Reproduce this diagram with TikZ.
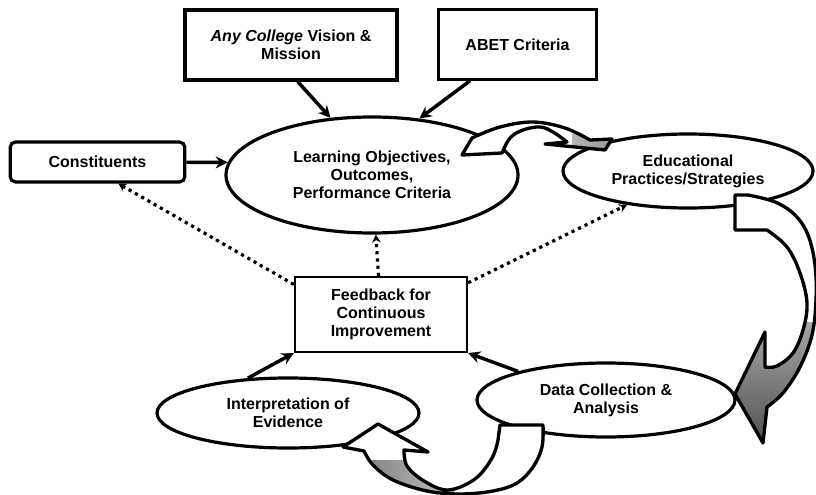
\documentclass[tikz,border=0pt]{standalone}
\usepackage{fontspec}
\setmainfont{Liberation Sans}
\usetikzlibrary{shapes.geometric, arrows, arrows.meta}
\tikzstyle{process} = [rectangle, line width=2.4pt, draw=black, fill=white, align=center, font=\bfseries\fontsize{12}{13.5}\selectfont]
\tikzstyle{stage} = [ellipse, line width=2.4pt, draw=black, fill=white, inner sep=0pt, align=center, font=\bfseries\fontsize{12}{13.5}\selectfont]
\tikzstyle{arrow} = [line width=2.6pt, -{Stealth[length=9pt, width=9pt]}]
\tikzstyle{dotarrow} = [line width=2.4pt, dash pattern=on 2.4pt off 3pt, -{Stealth[length=6pt, width=6.5pt]}]
\tikzstyle{bigarrow} = [line width=2.5pt, draw=black, fill=white, line join=round]

\begin{document}
\begin{tikzpicture}[x=0.75pt, y=-0.75pt]
        \useasboundingbox (0,0) rectangle (816,495);
        \node (vision-mission) [process, minimum width=159pt, minimum height=52.5pt] at (291,45) {\textit{Any College} Vision \&\\Mission};
        \node (abet) [process, minimum width=119pt, minimum height=52pt] at (517.5,44.5) {ABET Criteria};
        \node (constituents) [process, rounded corners=4pt, minimum width=131pt, minimum height=30pt] at (97.5,162) {Constituents};
        \node (learning-objectives) [stage, minimum width=219pt, minimum height=87pt] at (372,175) {Learning Objectives,\\Outcomes,\\Performance Criteria};
        \node (educational-practices) [stage, minimum width=187.5pt, minimum height=55.5pt] at (688,171) {Educational\\Practices/Strategies};
        \node (feedback) [process, line width=1.8pt, minimum width=129pt, minimum height=56pt] at (381,314.5) {Feedback for\\Continuous\\Improvement};
        \node (data-collection) [stage, minimum width=193.5pt, minimum height=55.5pt] at (606,400) {Data Collection \&\\Analysis};
        \node (interpretation) [stage, minimum width=196.5pt, minimum height=52.5pt] at (288,413) {Interpretation of\\Evidence};

        \draw [arrow] ([xshift=5pt]vision-mission.south) -- (learning-objectives.126);
        \draw [arrow] ([xshift=-35.6pt]abet.south) -- (learning-objectives.50);
        \draw [arrow] (constituents) -- (learning-objectives.175);
        \draw [dotarrow] (feedback) -- (learning-objectives);
        \draw [dotarrow] (feedback.161) -- (constituents.-46);
        \draw [dotarrow] (feedback.20) -- (educational-practices.209.5);
        \draw [arrow] (interpretation.139) -- (feedback.south west);
        \draw [arrow] (data-collection.162) -- (feedback.south east);

        % curved block arrows of the cycle
        \draw [bigarrow, path picture={\shade[left color=white, right color=gray!80] (572,135) rectangle (612,156);}]
            (462,155) -- plot [smooth, tension=0.6] coordinates {(472,138) (500,127) (533,122) (565,128) (590,140)}
            -- (612,139) -- (605,150) -- (545,144)
            -- plot [smooth, tension=0.6] coordinates {(567,142) (553,132) (540,127) (523,130) (510,138) (502,153)} -- cycle;
        \draw [bigarrow, path picture={\shade[top color=white, middle color=black, bottom color=gray!60!black] (725,322) rectangle (816,450);}]
            (735,195) -- plot [smooth, tension=0.6] coordinates {(748,195) (775,202) (795,215) (808,235) (815,265) (816,300) (812,335) (800,367) (783,393) (767,407)}
            -- (763,443) -- (735,394) -- (765,332)
            -- plot [smooth, tension=0.6] coordinates {(765,367) (777,366) (793,353) (803,330) (807,303) (800,273) (787,247) (767,230)}
            -- (735,230) -- cycle;
        \draw [bigarrow, path picture={\shade[left color=gray!90!black, right color=white] (370,460) rectangle (455,495);}]
            (500,425) -- plot [smooth, tension=0.6] coordinates {(543,425) (542,447) (533,467) (517,483) (493,491) (460,494) (427,491) (393,480) (373,465) (364,451)}
            -- (343,447) -- (378,424) -- (428,452)
            -- plot [smooth, tension=0.6] coordinates {(404,450) (407,466) (424,481) (448,490) (475,479) (492,458) (498,440)} -- cycle;
    \end{tikzpicture}
\end{document}
